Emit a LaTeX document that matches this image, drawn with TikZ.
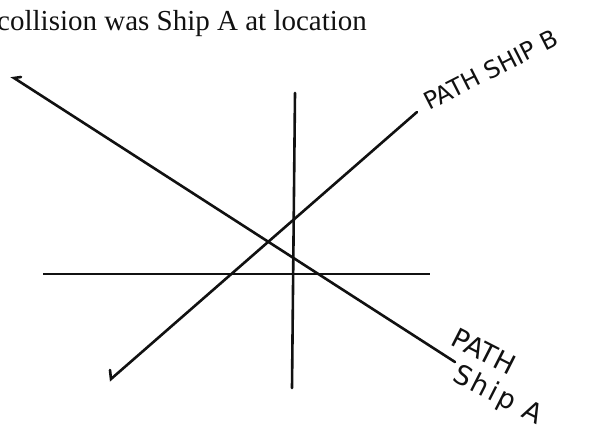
\documentclass[tikz,border=0pt]{standalone}
\usepackage{fontspec}
\setmainfont{Liberation Serif}
\newfontfamily\handfont{DejaVu Sans}
\usetikzlibrary{positioning}
\definecolor{scanink}{HTML}{111111}
\tikzset{
  pathline/.style={draw=scanink, line width=2.6pt, line cap=round},
  axisline/.style={draw=scanink, line width=2pt},
  captiontext/.style={font=\fontsize{29}{33}\selectfont, text=scanink, inner sep=0pt},
  handlabel/.style={font=\handfont\fontsize{24}{28}\selectfont, text=scanink, inner sep=0pt}
}
\begin{document}
\begin{tikzpicture}[x=1pt,y=-1pt]
  \useasboundingbox (0,0) rectangle (589,429);
  % caption line, cut at the left edge
  \node[captiontext, anchor=base west] (caption) at (-3,30) {collision was Ship A at location};

  % axes
  \coordinate (xleft) at (43,274);
  \coordinate (xright) at (430,274);
  \coordinate (ytop) at (295,93);
  \coordinate (ybot) at (292,388);
  \draw[axisline] (xleft) -- (xright);
  \draw[pathline] (ytop) -- (ybot);

  % ship paths
  \coordinate (astart) at (14,78);
  \coordinate (aend) at (455,362);
  \coordinate (bstart) at (111,379);
  \coordinate (bend) at (417,112);
  \draw[pathline] (astart) ++(7,-1) -- (astart) -- (aend);
  \draw[pathline] (bstart) ++(-1,-9) -- (bstart) -- (bend);

  \node[handlabel, anchor=base west, rotate=27] (labelb) at (429,111) {PATH SHIP B};
  \node[handlabel, anchor=north west, rotate=-27, align=left,
    font=\handfont\fontsize{27}{31}\selectfont] (labela) at (458,327)
    {PATH\\\hspace*{18pt}{\addfontfeatures{LetterSpace=10}Ship A}};
\end{tikzpicture}
\end{document}
